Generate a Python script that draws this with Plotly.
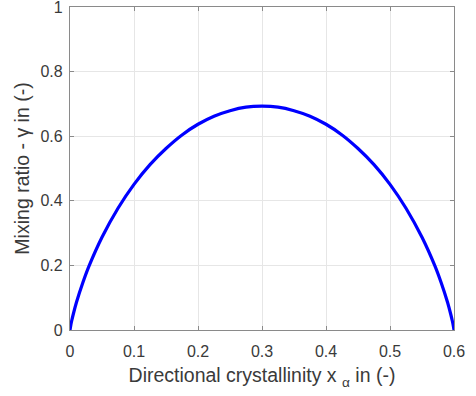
import plotly.graph_objects as go

# Values
x_vals = [0.0, 0.001, 0.0025, 0.005, 0.01, 0.02, 0.03, 0.05, 0.075, 0.1, 0.125, 0.15, 0.175,
          0.2, 0.225, 0.25, 0.275, 0.3, 0.325, 0.35, 0.375, 0.4, 0.425, 0.45, 0.475,
          0.5, 0.525, 0.55, 0.57, 0.58, 0.59, 0.595, 0.5975, 0.599, 0.6]
gamma_vals = [0.0, 0.012, 0.027, 0.048, 0.085, 0.146, 0.199, 0.287, 0.377, 0.451, 0.512, 0.562, 0.604,
              0.637, 0.662, 0.679, 0.690, 0.693, 0.690, 0.679, 0.662, 0.637, 0.604, 0.562, 0.512,
              0.451, 0.377, 0.287, 0.199, 0.146, 0.085, 0.048, 0.027, 0.012, 0.0]
x_ticks = [0, 0.1, 0.2, 0.3, 0.4, 0.5, 0.6]
x_tick_labels = ["0", "0.1", "0.2", "0.3", "0.4", "0.5", "0.6"]
y_ticks = [0, 0.2, 0.4, 0.6, 0.8, 1]
y_tick_labels = ["0", "0.2", "0.4", "0.6", "0.8", "1"]

FONT = "Liberation Sans, Arial, sans-serif"
TXT = "#3a3a3a"
AX = "#8a8a8a"

fig = go.Figure()
fig.add_trace(go.Scatter(x=x_vals, y=gamma_vals, mode="lines",
                         line=dict(color="#0000FF", width=3.2, shape="spline", smoothing=0.6),
                         hoverinfo="skip", showlegend=False))

axis_common = dict(showgrid=True, gridcolor="#e6e6e6", gridwidth=1,
                   showline=True, linecolor=AX, linewidth=1.2, mirror="ticks",
                   ticks="inside", ticklen=4, tickcolor=AX, tickwidth=1,
                   zeroline=False, automargin=False, ticklabeloverflow="allow",
                   tickfont=dict(family=FONT, size=16, color=TXT))

fig.update_xaxes(range=[0, 0.6], tickvals=x_ticks, ticktext=x_tick_labels,
                 ticklabelstandoff=7,
                 title=dict(text="Directional crystallinity x <sub>α</sub> in (-)",
                            font=dict(family=FONT, size=19.5, color=TXT), standoff=9),
                 **axis_common)
fig.update_yaxes(range=[0, 1], tickvals=y_ticks, ticktext=y_tick_labels,
                 ticklabelstandoff=3,
                 title=dict(text="Mixing ratio - γ in (-)",
                            font=dict(family=FONT, size=19.5, color=TXT), standoff=5),
                 **axis_common)

fig.update_layout(width=476, height=396, margin=dict(l=70, r=22, t=7, b=66),
                  paper_bgcolor="white", plot_bgcolor="white")

fig.write_html("out.html")
